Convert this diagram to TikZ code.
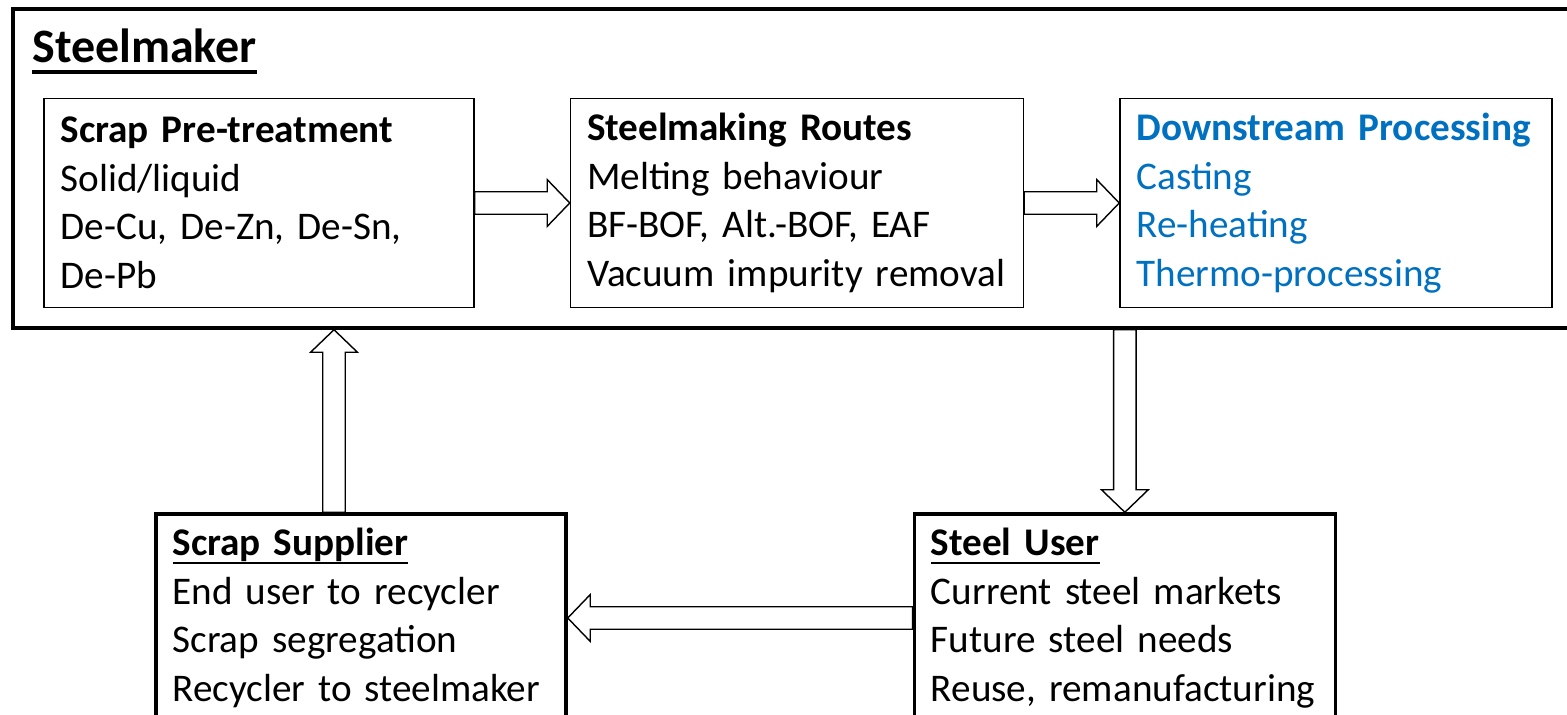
\documentclass[tikz,border=0pt]{standalone}
\usepackage{fontspec}
\setmainfont{Carlito}
\usetikzlibrary{positioning,calc}
\usepackage{xcolor}
\definecolor{dsblue}{RGB}{0,112,192}
\newcommand\ultext[1]{\setbox0=\hbox{#1}\rlap{\rule[-0.22em]{\wd0}{0.065em}}\box0}

\begin{document}
\begin{tikzpicture}[
    x=0.02cm,y=-0.02cm,
    node distance=19mm,
    stage/.style={draw=black,line width=0.9pt,minimum height=4.18cm,inner xsep=3.3mm,align=left,font=\fontsize{22.3}{27.6}\selectfont},
    party/.style={stage,line width=2pt,minimum height=4.16cm},
    hollow/.style={draw=black,line width=0.8pt,to path={let \p1=(\tikztostart),\p2=(\tikztotarget),
        \n1={atan2(\y2-\y1,\x2-\x1)},\n2={veclen(\x2-\x1,\y2-\y1)},\n3={\n2-12.8pt} in
        [shift={(\p1)},rotate=\n1] (0pt,6.4pt) -- (\n3,6.4pt) -- (\n3,13.3pt) -- (\n2,0pt)
        -- (\n3,-13.3pt) -- (\n3,-6.4pt) -- (0pt,-6.4pt) -- cycle}}
  ]
    \useasboundingbox (0,0) rectangle (1567,715);
    \clip (0,0) rectangle (1567,715);
    \node[draw=black,line width=2pt,minimum width=31.74cm,minimum height=6.38cm,inner sep=0pt] (maker) at (806.5,168.5) {};
    \node[anchor=base west,inner sep=0pt,font=\fontsize{27.3}{32}\selectfont\bfseries] (title) at (32,63) {\ultext{Steelmaker}};
    \node[stage,text width=7.94cm] (pretreat) at (259,203) {\textbf{Scrap Pre-treatment}\\Solid/liquid\\De-Cu, De-Zn, De-Sn,\\De-Pb};
    \node[stage,text width=8.4cm,right=of pretreat] (routes) {\textbf{Steelmaking Routes}\\Melting behaviour\\BF-BOF, Alt.-BOF, EAF\\Vacuum impurity removal};
    \node[stage,text width=7.98cm,text=dsblue,right=of routes] (downstream) {\mbox{\textbf{Downstream Processing}}\\Casting\\Re-heating\\Thermo-processing};
    \node[party,text width=7.54cm] (supplier) at (361,618) {\textbf{\ultext{Scrap Supplier}}\\End user to recycler\\Scrap segregation\\Recycler to steelmaker};
    \node[party,text width=7.76cm,right=69mm of supplier] (user) {\textbf{\ultext{Steel User}}\\Current steel markets\\Future steel needs\\Reuse, remanufacturing};
    \coordinate (upfoot) at ([xshift=-5.4mm]supplier.north);
    \draw[hollow] (pretreat.east) to (routes.west);
    \draw[hollow] (routes.east) to (downstream.west);
    \draw[hollow] (user.north |- maker.south) to (user.north);
    \draw[hollow] (user.west) to (supplier.east);
    \draw[hollow] (upfoot) to (upfoot |- maker.south);
  \end{tikzpicture}
\end{document}
